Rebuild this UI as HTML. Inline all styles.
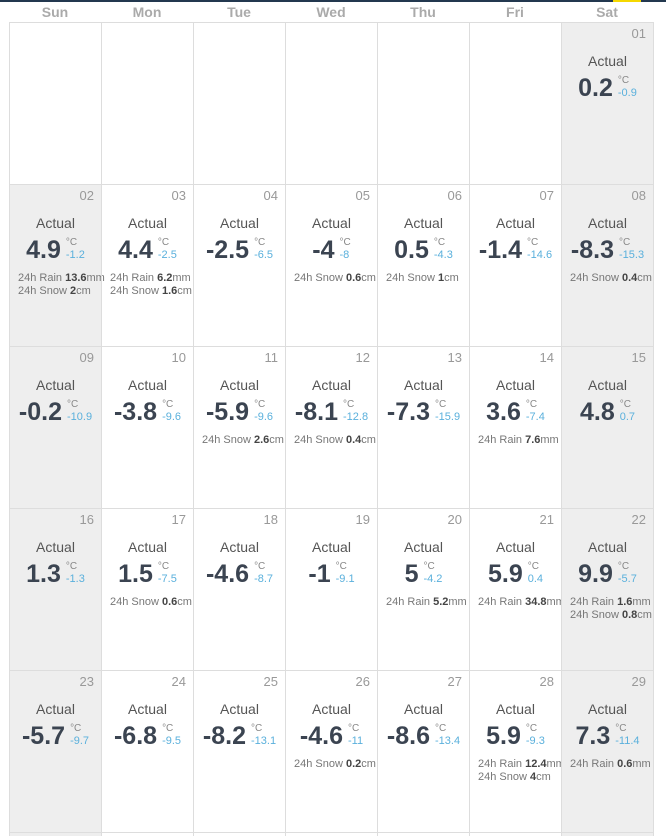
<!DOCTYPE html>
<html><head><meta charset="utf-8"><style>
html,body{margin:0;width:666px;height:836px;overflow:hidden}
body{background:#fff;font-family:"Liberation Sans",sans-serif;position:relative}
.top{position:absolute;left:0;top:0;width:666px;height:2px;background:#23384f}
.yel{position:absolute;left:613px;top:0;width:28px;height:2px;background:#f5d800}
.hd{position:absolute;top:4px;width:92px;text-align:center;font-size:14px;font-weight:bold;color:#aaa}
.c{position:absolute;width:91px;height:161px;border-left:1px solid #ddd;border-top:1px solid #ddd;box-sizing:content-box}
.g{background:#eee}
.d{position:absolute;right:7px;top:3px;font-size:13px;color:#999}
.a{position:absolute;left:0;right:0;top:30px;text-align:center;font-size:14px;color:#555}
.t{position:absolute;left:0;right:0;top:51px;display:flex;justify-content:center;align-items:flex-start}
.n{font-size:25px;font-weight:bold;color:#3b4451;line-height:28px;margin-right:5px}
.s{display:flex;flex-direction:column;font-size:11px;line-height:12px;padding-top:1px}
.s .u{color:#888;font-size:10px}
.s .m{color:#5ab0dc}
.i{position:absolute;left:8px;top:87px;font-size:11px;line-height:13px;color:#777;white-space:nowrap}
.i b{color:#444}
</style></head><body>
<div class="top"></div><div class="yel"></div>
<script>
var days=["Sun","Mon","Tue","Wed","Thu","Fri","Sat"];
var h="";
days.forEach(function(d,i){h+='<div class="hd" style="left:'+(9+92*i)+'px">'+d+'</div>';});
var data={1:["0.2","-0.9"],2:["4.9","-1.2",13.6,2],3:["4.4","-2.5",6.2,1.6],4:["-2.5","-6.5"],5:["-4","-8",null,0.6],6:["0.5","-4.3",null,1],7:["-1.4","-14.6"],8:["-8.3","-15.3",null,0.4],
9:["-0.2","-10.9"],10:["-3.8","-9.6"],11:["-5.9","-9.6",null,2.6],12:["-8.1","-12.8",null,0.4],13:["-7.3","-15.9"],14:["3.6","-7.4",7.6],15:["4.8","0.7"],
16:["1.3","-1.3"],17:["1.5","-7.5",null,0.6],18:["-4.6","-8.7"],19:["-1","-9.1"],20:["5","-4.2",5.2],21:["5.9","0.4",34.8],22:["9.9","-5.7",1.6,0.8],
23:["-5.7","-9.7"],24:["-6.8","-9.5"],25:["-8.2","-13.1"],26:["-4.6","-11",null,0.2],27:["-8.6","-13.4"],28:["5.9","-9.3",12.4,4],29:["7.3","-11.4",0.6]};
for(var r=0;r<6;r++)for(var c=0;c<7;c++){
 var day=r*7+c-5;var x=9+92*c,y=22+162*r;
 var g=(c==0||c==6)&&(day>=1);
 var cls="c"+(g?" g":"");
 h+='<div class="'+cls+'" style="left:'+x+'px;top:'+y+'px'+(r==5?';height:3px':'')+(c==6?';border-right:1px solid #ddd':'')+'">';
 if(data[day]){var v=data[day];
  h+='<div class="d">'+(day<10?"0"+day:day)+'</div><div class="a">Actual</div><div class="t"><span class="n">'+v[0]+'</span><span class="s"><span class="u">°C</span><span class="m">'+v[1]+'</span></span></div>';
  var inf="";if(v[2]!=null)inf+='24h Rain <b>'+v[2]+'</b>mm<br>';if(v[3]!=null)inf+='24h Snow <b>'+v[3]+'</b>cm';
  if(inf)h+='<div class="i">'+inf+'</div>';}
 h+='</div>';}
document.write(h);
</script>
</body></html>
